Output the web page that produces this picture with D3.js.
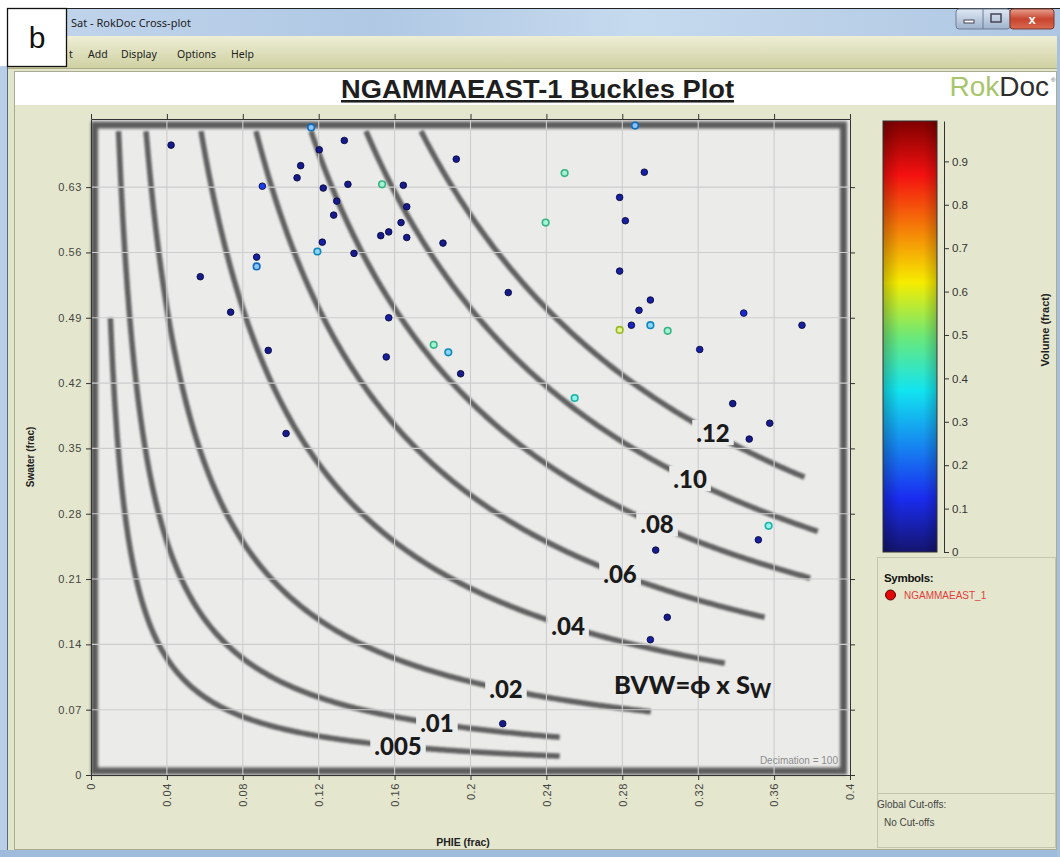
<!DOCTYPE html>
<html><head><meta charset="utf-8">
<script src="https://cdn.jsdelivr.net/npm/d3@7"></script>
<style>body{margin:0;background:#fff}svg{display:block}</style>
</head><body>
<svg id="c" width="1060" height="857"></svg>
<script>
// ---------- data ----------
const phie   = [0.0422,0.116,0.1335,0.1203,0.1925,0.1105,0.1086,0.0903,0.1224,0.1354,0.1534,0.1646,0.1295,0.1664,0.1279,0.1634,0.1527,0.1569,0.1664,0.1855,0.1219,0.1193,0.1386,0.0873,0.0873,0.0576,0.0736,0.1569,0.1806,0.1883,0.0934,0.1556,0.1948,0.2867,0.2496,0.2916,0.2786,0.2396,0.2816,0.2786,0.2199,0.2948,0.2888,0.344,0.3747,0.2848,0.2948,0.2786,0.3039,0.3208,0.2549,0.3382,0.3577,0.3469,0.1028,0.3571,0.3517,0.2976,0.3037,0.2948,0.217];
const swater = [0.675,0.694,0.680,0.670,0.660,0.653,0.640,0.631,0.629,0.633,0.633,0.632,0.615,0.609,0.600,0.592,0.578,0.582,0.576,0.570,0.571,0.561,0.559,0.555,0.545,0.534,0.496,0.490,0.461,0.453,0.455,0.448,0.430,0.696,0.645,0.646,0.619,0.592,0.594,0.540,0.517,0.509,0.498,0.495,0.482,0.482,0.482,0.477,0.476,0.456,0.404,0.398,0.377,0.360,0.366,0.267,0.252,0.241,0.169,0.145,0.055];
const volume = [0.03,0.25,0.03,0.03,0.03,0.03,0.03,0.15,0.03,0.03,0.45,0.03,0.03,0.03,0.03,0.03,0.03,0.03,0.03,0.03,0.05,0.3,0.03,0.05,0.25,0.03,0.03,0.05,0.45,0.3,0.03,0.05,0.03,0.25,0.45,0.05,0.05,0.45,0.05,0.05,0.03,0.05,0.05,0.1,0.05,0.08,0.3,0.58,0.45,0.05,0.4,0.03,0.03,0.03,0.03,0.4,0.05,0.03,0.03,0.05,0.03];

const bvwValues  = [0.005,0.01,0.02,0.04,0.06,0.08,0.10,0.12];
const bvwLabels  = [".005",".01",".02",".04",".06",".08",".10",".12"];
const curveSwTop = [0.49,0.69,0.69,0.69,0.69,0.69,0.69,0.69];
const curvePhiEnd= [0.247,0.247,0.295,0.334,0.355,0.379,0.383,0.376];
const labelPhi   = [0.1618,0.1823,0.2187,0.2514,0.2788,0.2983,0.3157,0.3278];

const xTicks = [0,0.04,0.08,0.12,0.16,0.2,0.24,0.28,0.32,0.36,0.4];
const yTicks = [0,0.07,0.14,0.21,0.28,0.35,0.42,0.49,0.56,0.63];
const cTicks = [0,0.1,0.2,0.3,0.4,0.5,0.6,0.7,0.8,0.9];

// ---------- styles ----------
const jetStops  = [0,0.125,0.375,0.5,0.625,0.875,1];
const jetColors = ["#14146e","#1a2cf0","#12e4f0","#6ce878","#f6ec00","#f41010","#800000"];
const jet = d3.scaleLinear().domain(jetStops).range(jetColors).interpolate(d3.interpolateRgb);

const svg = d3.select("#c");
const defs = svg.append("defs");
const AR = "Liberation Sans, Arial, sans-serif";

// window chrome
svg.append("rect").attr("x",0).attr("y",0).attr("width",1060).attr("height",857).attr("fill","#ffffff");
const tb = defs.append("linearGradient").attr("id","tb").attr("x1",0).attr("x2",1).attr("y1",0).attr("y2",0);
tb.append("stop").attr("offset","0").attr("stop-color","#c2d6ec");
tb.append("stop").attr("offset","0.35").attr("stop-color","#b0c8e4");
tb.append("stop").attr("offset","0.6").attr("stop-color","#c6daee");
tb.append("stop").attr("offset","1").attr("stop-color","#aec6e2");
svg.append("rect").attr("x",7).attr("y",8).attr("width",1053).attr("height",849).attr("fill","#b3cae6");
svg.append("rect").attr("x",7).attr("y",8).attr("width",1053).attr("height",28).attr("fill","url(#tb)");
svg.append("line").attr("x1",7).attr("x2",1060).attr("y1",8.5).attr("y2",8.5).attr("stroke","#222").attr("stroke-width",1.2);
svg.append("rect").attr("x",0).attr("y",66).attr("width",7).attr("height",791).attr("fill","#b9cfe8");
svg.append("line").attr("x1",7.5).attr("x2",7.5).attr("y1",8).attr("y2",857).attr("stroke","#5a6a80").attr("stroke-width",1);

const mb = defs.append("linearGradient").attr("id","mb").attr("x1",0).attr("x2",0).attr("y1",0).attr("y2",1);
mb.append("stop").attr("offset","0").attr("stop-color","#eeeed6");
mb.append("stop").attr("offset","1").attr("stop-color","#cfd1a2");
svg.append("rect").attr("x",8).attr("y",36).attr("width",1049).attr("height",32).attr("fill","url(#mb)");
svg.append("line").attr("x1",8).attr("x2",1057).attr("y1",68.5).attr("y2",68.5).attr("stroke","#a9aa86");

// panel
svg.append("rect").attr("x",8).attr("y",69).attr("width",1049).attr("height",781).attr("fill","#e2e5ca");
svg.append("rect").attr("x",14.5).attr("y",71.5).attr("width",1042).attr("height",778).attr("fill","#e4e7cd").attr("stroke","#a9ab92");
svg.append("rect").attr("x",15).attr("y",72).attr("width",1041).attr("height",33).attr("fill","#ffffff");
svg.append("rect").attr("x",0).attr("y",850).attr("width",1060).attr("height",7).attr("fill","#9fbbdb");
svg.append("rect").attr("x",1057).attr("y",36).attr("width",3).attr("height",821).attr("fill","#a7c0de");

// title bar text & menu
svg.append("text").attr("x",71).attr("y",27).attr("font-family","Noto Sans, sans-serif").attr("font-size",11).attr("fill","#1b1b1b").text("Sat - RokDoc Cross-plot");
const menu = [["t",69],["Add",88],["Display",121],["Options",177],["Help",231]];
menu.forEach(m => svg.append("text").attr("x",m[1]).attr("y",58).attr("font-family","Noto Sans, sans-serif").attr("font-size",10.5).attr("fill","#222").text(m[0]));

// window buttons
const wb = defs.append("linearGradient").attr("id","wb").attr("x1",0).attr("x2",0).attr("y1",0).attr("y2",1);
wb.append("stop").attr("offset","0").attr("stop-color","#dfe8f3");
wb.append("stop").attr("offset","1").attr("stop-color","#9fb3cc");
const rb = defs.append("linearGradient").attr("id","rb").attr("x1",0).attr("x2",0).attr("y1",0).attr("y2",1);
rb.append("stop").attr("offset","0").attr("stop-color","#e8a090");
rb.append("stop").attr("offset","0.5").attr("stop-color","#c8442e");
rb.append("stop").attr("offset","1").attr("stop-color","#d86a50");
svg.append("rect").attr("x",956).attr("y",9).attr("width",54).attr("height",20).attr("rx",3).attr("fill","url(#wb)").attr("stroke","#6c7c94");
svg.append("line").attr("x1",983).attr("x2",983).attr("y1",9).attr("y2",29).attr("stroke","#6c7c94");
svg.append("rect").attr("x",1010).attr("y",9).attr("width",44).attr("height",20).attr("rx",3).attr("fill","url(#rb)").attr("stroke","#7a3a30");
svg.append("rect").attr("x",964).attr("y",20).attr("width",10).attr("height",3).attr("fill","#fff").attr("stroke","#445");
svg.append("rect").attr("x",991).attr("y",14).attr("width",10).attr("height",8).attr("fill","none").attr("stroke","#445").attr("stroke-width",1.5);
svg.append("text").attr("x",1032).attr("y",24).attr("text-anchor","middle").attr("font-family",AR).attr("font-weight","bold").attr("font-size",13).attr("fill","#fff").text("x");

// "b" box
svg.append("rect").attr("x",7.5).attr("y",8.5).attr("width",59).attr("height",58).attr("fill","#fff").attr("stroke","#111").attr("stroke-width",1.3);
svg.append("text").attr("x",37).attr("y",48).attr("text-anchor","middle").attr("font-family",AR).attr("font-size",30).attr("fill","#111").text("b");

// title
svg.append("text").attr("x",341).attr("y",98).attr("font-family",AR).attr("font-weight","bold").attr("font-size",25.5).attr("fill","#1e1e1e")
  .attr("text-decoration","underline").attr("textLength",393).attr("lengthAdjust","spacingAndGlyphs").text("NGAMMAEAST-1 Buckles Plot");
const rk = svg.append("text").attr("x",1049).attr("y",96).attr("text-anchor","end").attr("font-family",AR).attr("font-size",28);
rk.append("tspan").attr("fill","#a9c56c").text("Rok");
rk.append("tspan").attr("fill","#2e2e2e").text("Doc");
svg.append("text").attr("x",1051).attr("y",82).attr("font-family",AR).attr("font-size",6).attr("fill","#555").text("®");

// ---------- plot ----------
const x = d3.scaleLinear().domain([0,0.4]).range([91,850]);
const y = d3.scaleLinear().domain([0,0.703]).range([775,119]);
const X0 = x(0), X1 = x(0.4), Y0 = y(0), Y1 = y(0.703);

const blur = defs.append("filter").attr("id","bl").attr("x","-5%").attr("y","-5%").attr("width","110%").attr("height","110%");
blur.append("feGaussianBlur").attr("stdDeviation",0.9);
const blur2 = defs.append("filter").attr("id","bl2").attr("x","-5%").attr("y","-5%").attr("width","110%").attr("height","110%");
blur2.append("feGaussianBlur").attr("stdDeviation",1.4);

const plot = svg.append("g");
plot.append("rect").attr("x",X0).attr("y",Y1).attr("width",X1-X0).attr("height",Y0-Y1).attr("fill","#ebebea");

// BVW curves
const line = d3.line().x(d => x(d[0])).y(d => y(d[1]));
const curveG = plot.append("g").attr("filter","url(#bl)");
bvwValues.forEach((b,i) => {
  const p0 = b / curveSwTop[i], p1 = curvePhiEnd[i];
  const pts = d3.range(0,201).map(k => { const p = p0 + (p1-p0)*k/200; return [p, b/p]; });
  curveG.append("path").attr("d",line(pts)).attr("fill","none").attr("stroke","#555").attr("stroke-width",5.5).attr("opacity",0.93);
});

// label gaps (rects) — labels themselves drawn later on top of grid
const gapG = plot.append("g");
const labG = svg.append("g");
const labelNodes = [];
bvwValues.forEach((b,i) => {
  const px = x(labelPhi[i]), py = y(b/labelPhi[i]);
  const t = labG.append("text").attr("x",px).attr("y",py).attr("dy","0.36em").attr("text-anchor","middle")
    .attr("font-family","Lato, Open Sans, sans-serif").attr("font-weight",900).attr("font-size",24).attr("fill","#1a1a1a").text(bvwLabels[i]);
  labelNodes.push(t);
});
labelNodes.forEach(t => {
  const bb = t.node().getBBox();
  gapG.append("rect").attr("x",bb.x-4).attr("y",bb.y+2).attr("width",bb.width+8).attr("height",bb.height-4).attr("fill","#ebebea");
});

// image frame
plot.append("rect").attr("x",X0+3.5).attr("y",Y1+6).attr("width",X1-X0-10).attr("height",Y0-Y1-10).attr("fill","none").attr("stroke","#5a5a5a").attr("stroke-width",7).attr("filter","url(#bl2)");

// grid
const grid = plot.append("g").attr("stroke","#cdcdcd").attr("stroke-width",1.1);
xTicks.slice(1,-1).forEach(v => grid.append("line").attr("x1",x(v)).attr("x2",x(v)).attr("y1",Y1).attr("y2",Y0));
yTicks.slice(1).forEach(v => grid.append("line").attr("x1",X0).attr("x2",X1).attr("y1",y(v)).attr("y2",y(v)));
labG.raise();

// equation
const eq = svg.append("text").attr("x",614).attr("y",694).attr("font-family","Lato, Open Sans, sans-serif").attr("font-weight",900).attr("font-size",25.5).attr("fill","#1a1a1a");
eq.append("tspan").text("BVW=ϕ x S");
eq.append("tspan").attr("font-size",20).attr("dy",4).text("W");

svg.append("text").attr("x",838).attr("y",764).attr("text-anchor","end").attr("font-family",AR).attr("font-size",10).attr("fill","#8c8c8c").text("Decimation = 100");

// points
const pts = phie.map((p,i) => ({p, s: swater[i], v: volume[i]}));
svg.append("g").selectAll("circle").data(pts).join("circle")
  .attr("cx", d => x(d.p)).attr("cy", d => y(d.s)).attr("r", 3.3)
  .attr("fill", d => d.v >= 0.2 ? d3.interpolateRgb(jet(d.v), "#ffffff")(0.5) : jet(d.v))
  .attr("stroke", d => d.v >= 0.2 ? d3.color(jet(d.v)).darker(0.7) : "#0a0a3a")
  .attr("stroke-width", d => d.v >= 0.2 ? 1.6 : 0.9);

// axes
const axStyle = g => {
  g.selectAll("path,line").attr("stroke","#333");
  g.selectAll("text").attr("font-family",AR).attr("font-size",11).attr("fill","#444").attr("letter-spacing","0.6px");
};
const xa = svg.append("g").attr("transform",`translate(0,${Y0})`)
  .call(d3.axisBottom(x).tickValues(xTicks).tickFormat(d3.format("~g")).tickSize(5).tickSizeOuter(0));
xa.selectAll("text").attr("transform","rotate(-90)").attr("text-anchor","end").attr("x",-8).attr("y",0).attr("dy","0.35em");
axStyle(xa);
const ya = svg.append("g").attr("transform",`translate(${X0},0)`)
  .call(d3.axisLeft(y).tickValues(yTicks).tickFormat(d3.format("~g")).tickSize(5).tickSizeOuter(0));
ya.selectAll("text").attr("x",-9);
axStyle(ya);
const ta = svg.append("g").attr("transform",`translate(0,${Y1})`)
  .call(d3.axisTop(x).tickValues(xTicks).tickFormat("").tickSize(5).tickSizeOuter(0));
axStyle(ta);
const ra = svg.append("g").attr("transform",`translate(${X1},0)`)
  .call(d3.axisRight(y).tickValues(yTicks).tickFormat("").tickSize(5).tickSizeOuter(0));
axStyle(ra);

svg.append("text").attr("transform","translate(34,457) rotate(-90)").attr("text-anchor","middle").attr("font-family",AR).attr("font-weight","bold").attr("font-size",10).attr("fill","#222").text("Swater (frac)");
svg.append("text").attr("x",463).attr("y",846).attr("text-anchor","middle").attr("font-family",AR).attr("font-weight","bold").attr("font-size",10.5).attr("fill","#222").text("PHIE (frac)");

// ---------- colour bar ----------
const c = d3.scaleLinear().domain([0,0.993]).range([552,121]);
const cg = defs.append("linearGradient").attr("id","cg").attr("x1",0).attr("x2",0).attr("y1",1).attr("y2",0);
jetStops.forEach((s,i) => cg.append("stop").attr("offset", s).attr("stop-color", jetColors[i]));
const sh = defs.append("linearGradient").attr("id","sh").attr("x1",0).attr("x2",1).attr("y1",0).attr("y2",0);
sh.append("stop").attr("offset","0").attr("stop-color","#000").attr("stop-opacity",0.22);
sh.append("stop").attr("offset","0.3").attr("stop-color","#000").attr("stop-opacity",0);
sh.append("stop").attr("offset","0.75").attr("stop-color","#000").attr("stop-opacity",0);
sh.append("stop").attr("offset","1").attr("stop-color","#000").attr("stop-opacity",0.2);
svg.append("rect").attr("x",883).attr("y",c(0.993)).attr("width",54).attr("height",c(0)-c(0.993)).attr("fill","url(#cg)");
svg.append("rect").attr("x",883).attr("y",c(0.993)).attr("width",54).attr("height",c(0)-c(0.993)).attr("fill","url(#sh)").attr("stroke","#333").attr("stroke-width",1);
const ca = svg.append("g").attr("transform","translate(944,0)")
  .call(d3.axisRight(c).tickValues(cTicks).tickFormat(d3.format("~g")).tickSize(5).tickSizeOuter(0));
ca.selectAll("path,line").attr("stroke","#333");
ca.selectAll("text").attr("font-family",AR).attr("font-size",11.5).attr("fill","#333").attr("x",8);
svg.append("text").attr("transform","translate(1049,330) rotate(-90)").attr("text-anchor","middle").attr("font-family",AR).attr("font-weight","bold").attr("font-size",11).attr("fill","#222").text("Volume (fract)");

// legend panels
svg.append("rect").attr("x",877.5).attr("y",557.5).attr("width",178).attr("height",236).attr("fill","none").attr("stroke","#c3c6aa");
svg.append("rect").attr("x",877.5).attr("y",793.5).attr("width",178).attr("height",54).attr("fill","none").attr("stroke","#c3c6aa");
svg.append("text").attr("x",884).attr("y",582).attr("font-family",AR).attr("font-weight","bold").attr("font-size",11.5).attr("fill","#111").attr("letter-spacing","-0.3px").text("Symbols:");
svg.append("circle").attr("cx",890.5).attr("cy",595).attr("r",5).attr("fill","#e00808").attr("stroke","#5a0000").attr("stroke-width",1);
svg.append("text").attr("x",904).attr("y",599).attr("font-family",AR).attr("font-size",10).attr("fill","#e23c3c").text("NGAMMAEAST_1");
svg.append("text").attr("x",877).attr("y",808).attr("font-family",AR).attr("font-size",10).attr("fill","#444").text("Global Cut-offs:");
svg.append("text").attr("x",884).attr("y",826).attr("font-family",AR).attr("font-size",10).attr("fill","#444").text("No Cut-offs");
</script>
</body></html>
